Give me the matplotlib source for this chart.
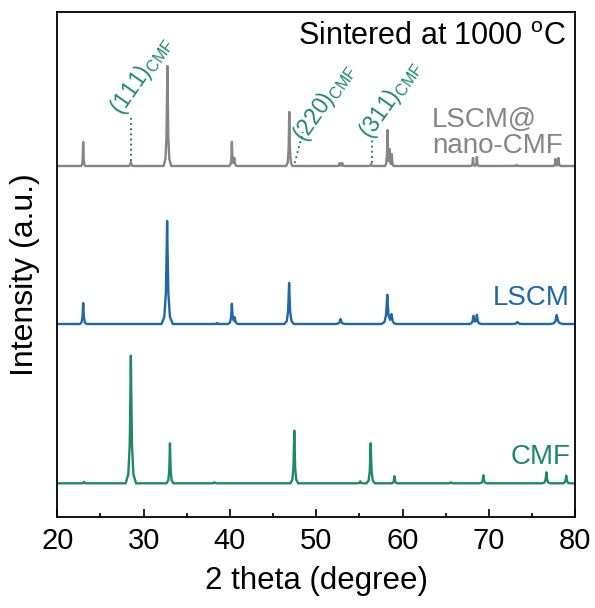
import numpy as np
import matplotlib
matplotlib.use('Agg')
import matplotlib.pyplot as plt

plt.rcParams['font.family'] = ['Liberation Sans', 'DejaVu Sans']
plt.rcParams['mathtext.fontset'] = 'custom'
plt.rcParams['mathtext.rm'] = 'Liberation Sans'
plt.rcParams['mathtext.it'] = 'Liberation Sans:italic'

# ---- data: peak positions (2theta, deg), intensities (a.u.), half base widths (deg)
cmf_pos = [23.1, 28.52, 33.05, 38.2, 47.45, 55.1, 56.3, 59.05, 65.6, 69.35, 76.65, 78.95]
cmf_int = [1.5, 127.6, 40, 1, 52.6, 2, 40, 7, 1, 8, 11, 7.6]
cmf_hw = [0.35, 0.6, 0.4, 0.4, 0.45, 0.35, 0.48, 0.37, 0.4, 0.4, 0.45, 0.42]

lscm_pos = [23.0, 32.72, 38.5, 40.22, 40.55, 46.85, 52.8, 58.22, 58.72, 68.2, 68.6, 73.3, 77.85]
lscm_int = [21, 103, 1, 20, 6, 41, 5, 29, 9, 8, 9, 2, 9]
lscm_hw = [0.4, 0.65, 0.4, 0.45, 0.5, 0.55, 0.6, 0.65, 0.6, 0.5, 0.5, 0.7, 0.75]

comp_pos = [23.0, 28.52, 32.75, 40.22, 40.5, 46.87, 52.7, 53.0, 56.35, 58.25, 58.5, 58.75,
            68.15, 68.6, 73.2, 77.7, 78.05]
comp_int = [24, 4, 100, 24, 8, 54, 3, 3, 2, 36, 16, 12, 8, 9, 1, 7, 8]
comp_hw = [0.25, 0.3, 0.45, 0.3, 0.35, 0.35, 0.25, 0.25, 0.3, 0.3, 0.25, 0.25, 0.25, 0.25, 0.4, 0.25, 0.25]

offsets = {'CMF': 34, 'LSCM': 193.3, 'LSCM@nano-CMF': 351.3}

# CMF reflections marked in the composite pattern
ann_labels = ['(111)', '(220)', '(311)']
ann_pos = [28.52, 47.5, 56.42]


def profile(pos, inten, hw):
    sx = np.array([-1, -0.5, -0.22, -0.08, 0, 0.08, 0.22, 0.5, 1])
    sy = np.array([0, 0.07, 0.3, 0.72, 1, 0.72, 0.3, 0.07, 0])
    xs = [20.0, 80.0]
    for p, w in zip(pos, hw):
        xs.extend(list(p + w * sx))
    xs = np.unique(np.clip(xs, 20, 80))
    ys = np.zeros_like(xs)
    for p, h, w in zip(pos, inten, hw):
        ys += np.interp(xs, p + w * sx, h * sy, left=0, right=0)
    return xs, ys


gray = '#858585'
blue = '#1f68a8'
green = '#1e8a64'

fig = plt.figure(figsize=(5.95, 6.08), dpi=100)
ax = fig.add_axes([57.3 / 595, 1 - 517.3 / 608, 518 / 595, 505.6 / 608])

for pos, inten, hw, key, col in [
    (cmf_pos, cmf_int, cmf_hw, 'CMF', green),
    (lscm_pos, lscm_int, lscm_hw, 'LSCM', blue),
    (comp_pos, comp_int, comp_hw, 'LSCM@nano-CMF', gray),
]:
    x, y = profile(pos, inten, hw)
    ax.plot(x, y + offsets[key], color=col, lw=1.7, solid_joinstyle='round')

ax.set_xlim(20, 80)
ax.set_ylim(0, 505.6)
ax.set_xticks(range(20, 81, 10))
ax.set_xticks(range(25, 80, 10), minor=True)
ax.set_yticks([])
ax.tick_params(axis='x', which='major', direction='in', length=6, width=1.2,
               labelsize=21, pad=7)
ax.tick_params(axis='x', which='minor', direction='in', length=3, width=1.2)
for s in ax.spines.values():
    s.set_linewidth(1.3)

ax.set_xlabel('2 theta (degree)', fontsize=22.5, labelpad=8)
ax.set_ylabel('Intensity (a.u.)', fontsize=23)
ax.yaxis.set_label_coords(-0.034, 0.479)

ax.text(0.982, 0.935, r'Sintered at 1000 $^{\mathrm{o}}$C', transform=ax.transAxes,
        ha='right', va='baseline', fontsize=22, color='black')

# series labels
ax.text(63.4, 517.3 - 126.7, 'LSCM@', ha='left', va='baseline', fontsize=20, color=gray)
ax.text(63.4, 517.3 - 153.3, 'nano-CMF', ha='left', va='baseline', fontsize=20, color=gray)
ax.text(79.4, 517.3 - 305, 'LSCM', ha='right', va='baseline', fontsize=20, color=blue)
ax.text(79.4, 517.3 - 464, 'CMF', ha='right', va='baseline', fontsize=20, color=green)

# annotations
base = offsets['LSCM@nano-CMF']
# (111)
ax.plot([ann_pos[0], ann_pos[0]], [base + 5, 517.3 - 116], ls=':', color=green, lw=1.4)
ax.text(27.45, 517.3 - 116, ann_labels[0] + r'$_{\mathrm{CMF}}$', rotation=55,
        rotation_mode='anchor', ha='left', va='baseline', fontsize=16.5, color=green)
# (220)
ax.plot([ann_pos[1], 48.45], [base + 3, 517.3 - 132], ls=':', color=green, lw=1.4)
ax.text(48.55, 517.3 - 143, ann_labels[1] + r'$_{\mathrm{CMF}}$', rotation=55,
        rotation_mode='anchor', ha='left', va='baseline', fontsize=16.5, color=green)
# (311)
ax.plot([ann_pos[2], ann_pos[2]], [base + 3, 517.3 - 138], ls=':', color=green, lw=1.4)
ax.text(56.3, 517.3 - 140, ann_labels[2] + r'$_{\mathrm{CMF}}$', rotation=55,
        rotation_mode='anchor', ha='left', va='baseline', fontsize=16.5, color=green)

fig.savefig('out.png', dpi=100)
